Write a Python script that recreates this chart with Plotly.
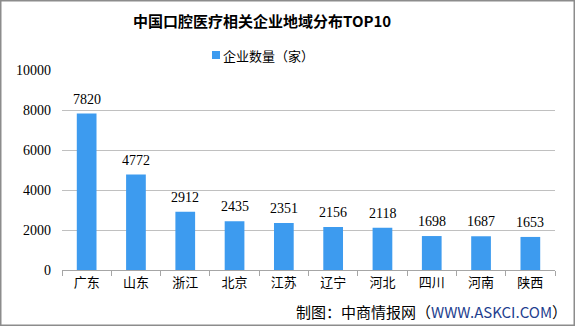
import plotly.graph_objects as go

provinces = ["广东", "山东", "浙江", "北京", "江苏", "辽宁", "河北", "四川", "河南", "陕西"]
counts = [7820, 4772, 2912, 2435, 2351, 2156, 2118, 1698, 1687, 1653]
y_ticks = [0, 2000, 4000, 6000, 8000, 10000]
y_tick_labels = ["0", "2000", "4000", "6000", "8000", "10000"]
series_name = "企业数量（家）"

BLUE = "#3D9BEF"
FONT = "Liberation Serif, Noto Sans CJK SC"
PW, PH, ML, MT = 493, 200, 62, 70

def px_x(x):
    return (x - ML) / PW

def px_y(y):
    return 1 - (y - MT) / PH

fig = go.Figure()
fig.add_trace(go.Bar(
    x=provinces, y=counts, name=series_name,
    marker=dict(color=BLUE, line=dict(width=0)),
    showlegend=False,
))

annotations = [dict(x=p, y=v, text=str(v), xref="x", yref="y", showarrow=False,
                    yanchor="bottom", yshift=5,
                    font=dict(family=FONT, size=14, color="#000000"))
               for p, v in zip(provinces, counts)]

annotations.append(dict(
    text="制图：中商情报网（<span style='color:#1F3F8F'>WWW.ASKCI.COM</span>）",
    xref="paper", yref="paper", x=px_x(569), y=px_y(311),
    xanchor="right", yanchor="middle", showarrow=False,
    font=dict(family="Noto Sans CJK SC", size=15, color="#000000")))

annotations.append(dict(
    text=series_name, xref="paper", yref="paper", x=px_x(221), y=px_y(55),
    xanchor="left", yanchor="middle", showarrow=False,
    font=dict(family="Noto Sans CJK SC", size=13, color="#000000")))

annotations.append(dict(
    text="<b>中国口腔医疗相关企业地域分布TOP10</b>", xref="paper", yref="paper",
    x=px_x(262), y=px_y(21), xanchor="center", yanchor="middle", showarrow=False,
    font=dict(family="Noto Sans CJK SC", size=15, color="#000000")))

fig.update_layout(
    width=575, height=326,
    margin=dict(l=ML, r=20, t=MT, b=56),
    paper_bgcolor="white", plot_bgcolor="white",
    bargap=0.6,
    showlegend=False,
    xaxis=dict(showline=True, linecolor="#a6a6a6", linewidth=1,
               ticks="outside", tickson="boundaries", ticklen=5, tickcolor="#a6a6a6",
               tickfont=dict(family="Noto Sans CJK SC", size=13, color="#000000")),
    yaxis=dict(range=[0, 10000], tickvals=y_ticks, ticktext=y_tick_labels,
               showgrid=True, gridcolor="#c0c0c0",
               gridwidth=1, zeroline=False, showline=False,
               tickfont=dict(family=FONT, size=14, color="#000000"), ticklabelstandoff=10),
    shapes=[
        dict(type="rect", xref="paper", yref="paper",
             x0=px_x(0.75), x1=px_x(574.25), y0=px_y(325.25), y1=px_y(0.75),
             line=dict(color="#8c8c8c", width=1.5)),
        dict(type="rect", xref="paper", yref="paper",
             x0=px_x(212), x1=px_x(220), y0=px_y(59), y1=px_y(51),
             fillcolor=BLUE, line=dict(width=0)),
    ],
    annotations=annotations,
)

fig.write_html("out.html")
